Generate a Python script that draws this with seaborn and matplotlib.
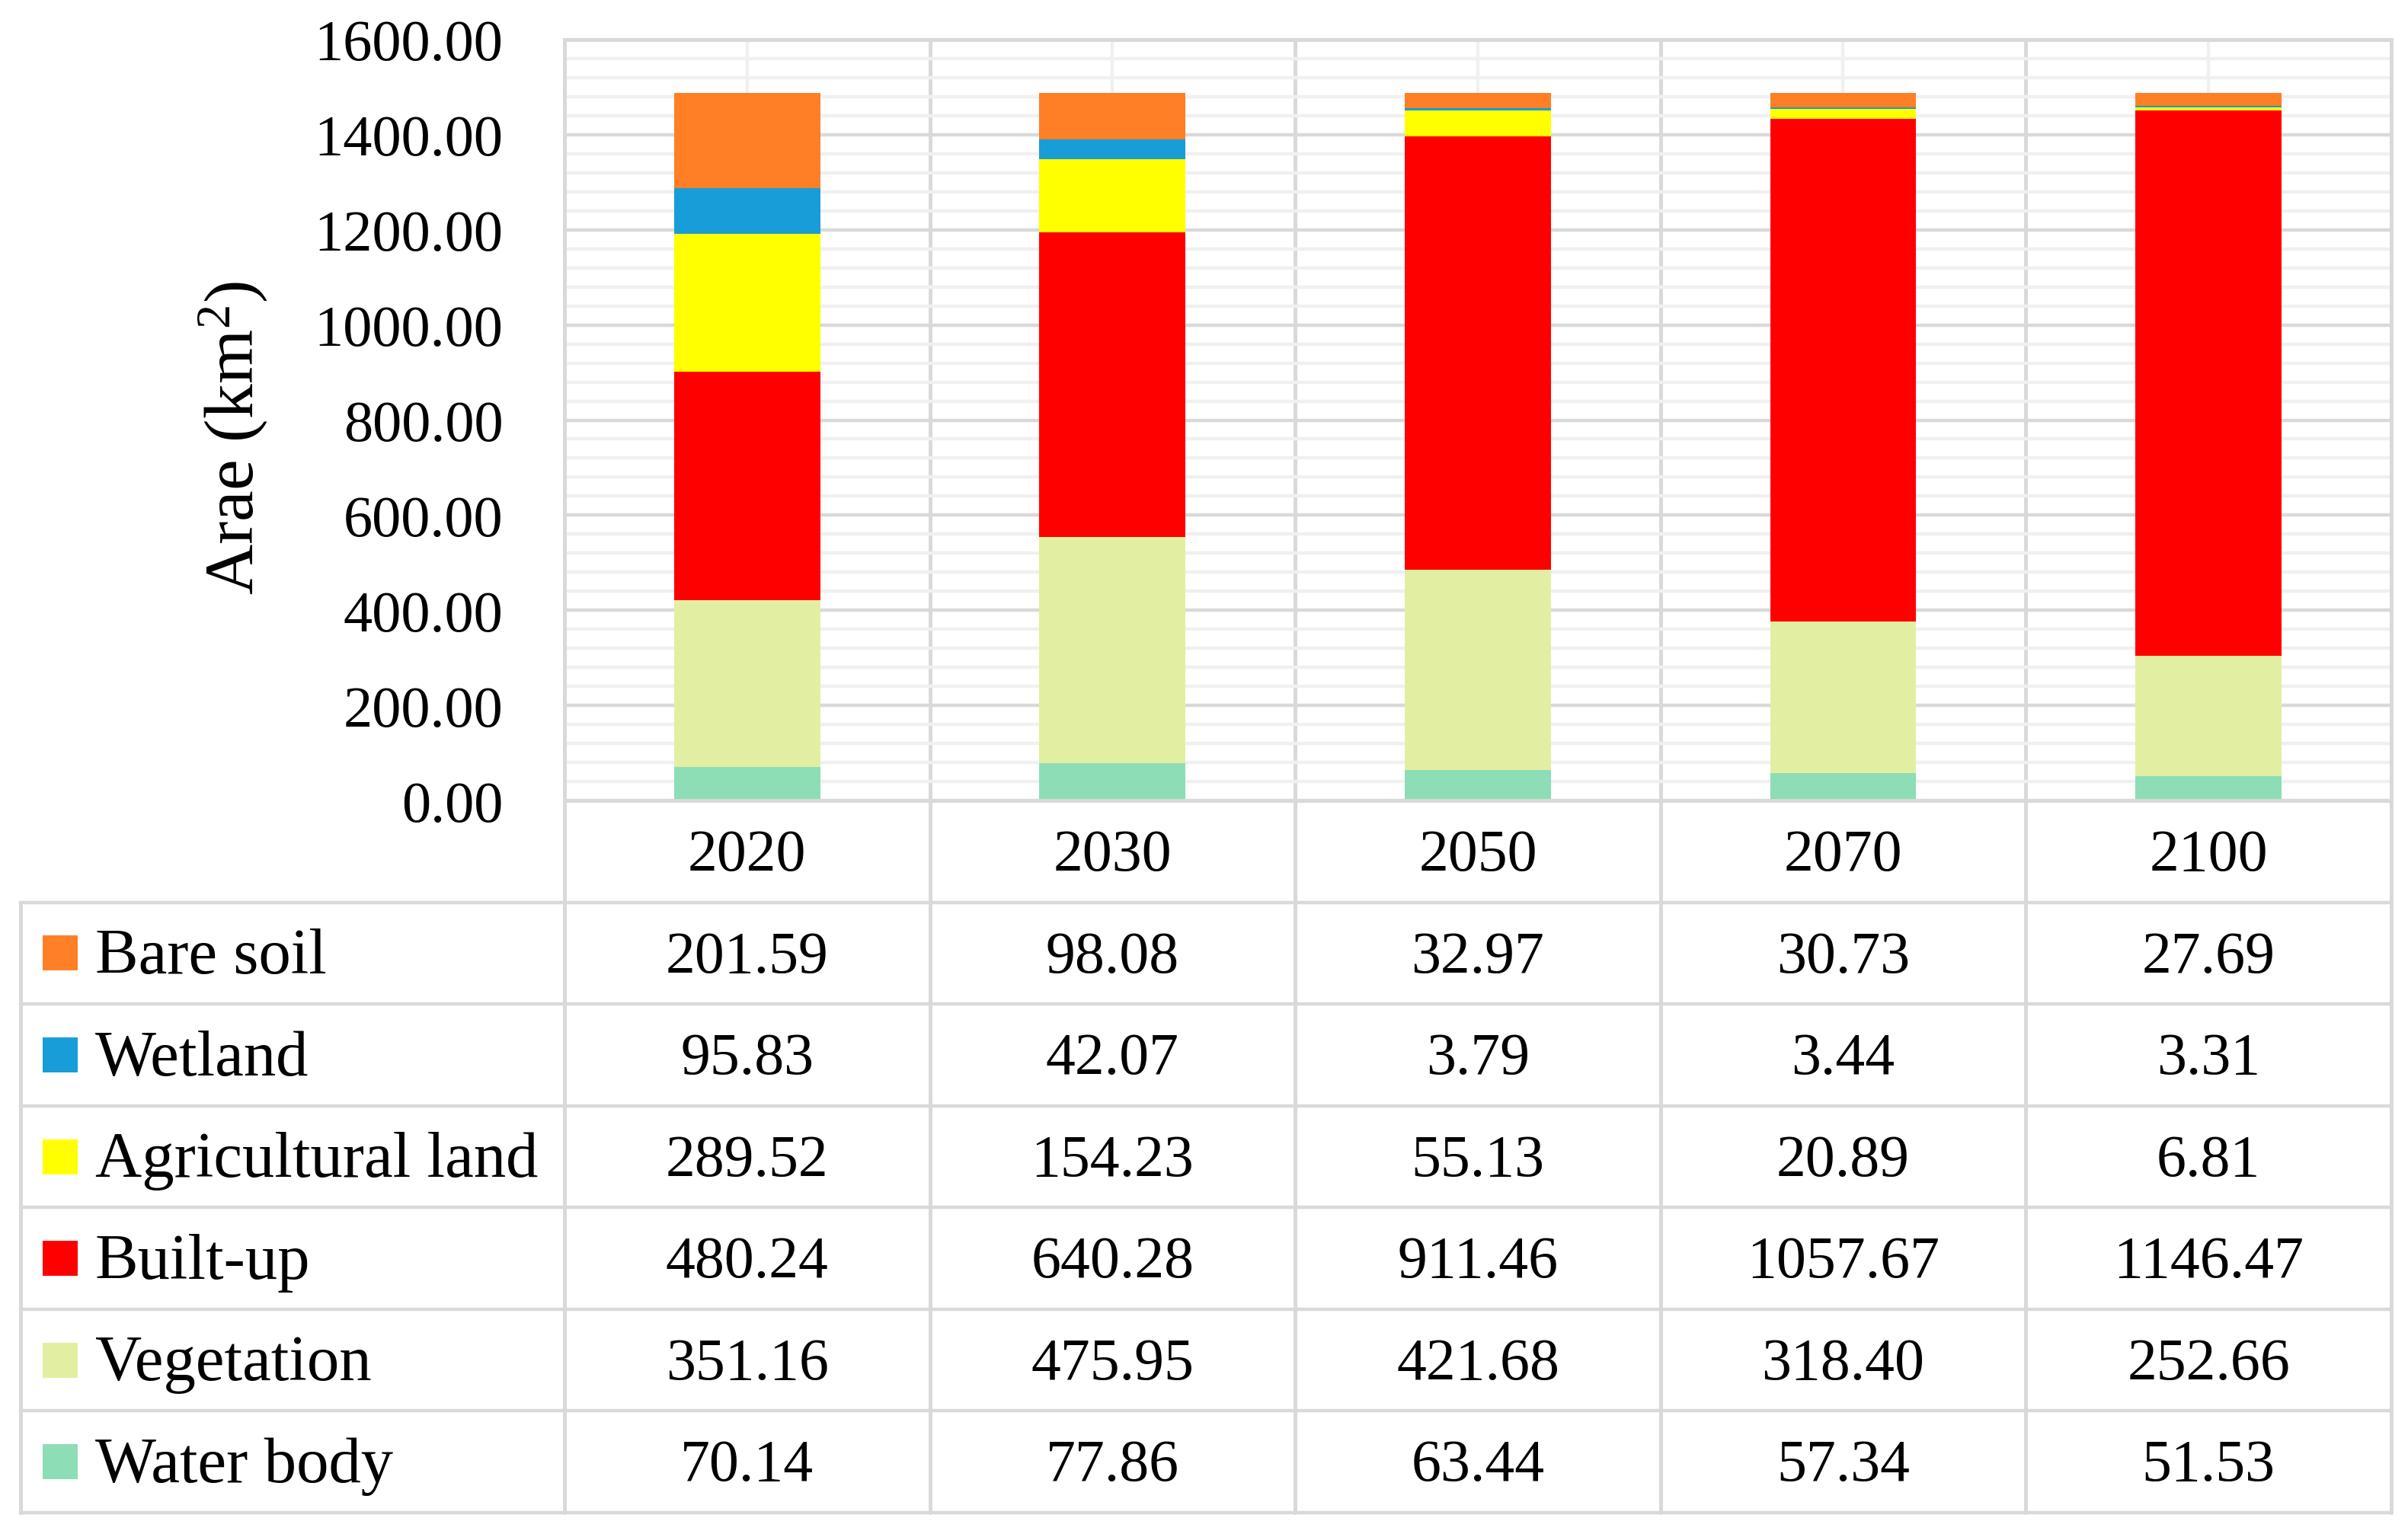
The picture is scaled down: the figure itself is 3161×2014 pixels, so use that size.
import matplotlib
matplotlib.use("Agg")
import numpy as np
import pandas as pd
import matplotlib.pyplot as plt
import seaborn as sns

# ── data (km²) ─────────────────────────────────────
years      = ["2020", "2030", "2050", "2070", "2100"]
water_body = [70.14, 77.86, 63.44, 57.34, 51.53]
vegetation = [351.16, 475.95, 421.68, 318.40, 252.66]
built_up   = [480.24, 640.28, 911.46, 1057.67, 1146.47]
agri_land  = [289.52, 154.23, 55.13, 20.89, 6.81]
wetland    = [95.83, 42.07, 3.79, 3.44, 3.31]
bare_soil  = [201.59, 98.08, 32.97, 30.73, 27.69]

# stacking order, bottom → top
classes = ["Water body", "Vegetation", "Built-up", "Agricultural land", "Wetland", "Bare soil"]
series  = [water_body, vegetation, built_up, agri_land, wetland, bare_soil]
colors  = ["#8DDDB7", "#E2EFA3", "#FF0000", "#FFFF00", "#189DD8", "#FF7F27"]

df = pd.DataFrame(dict(zip(classes, series)), index=years)
cum = df.cumsum(axis=1)

sns.set_theme(style="white")
plt.rcParams["font.family"] = ["Liberation Serif", "DejaVu Serif"]
plt.rcParams["mathtext.fontset"] = "custom"
plt.rcParams["mathtext.rm"] = "Liberation Serif"
plt.rcParams["mathtext.it"] = "Liberation Serif"
plt.rcParams["text.color"] = "black"
plt.rcParams["ytick.color"] = "black"
plt.rcParams["xtick.color"] = "black"

GRID_DARK  = "#d9d9d9"
GRID_LIGHT = "#f0f0f0"
LW = 1.6

fig = plt.figure(figsize=(15.805, 10.075), dpi=200)
ax = fig.add_axes([0.2344, 0.4779, 0.9930 - 0.2344, 0.9737 - 0.4779])

# ── stacked bars: draw cumulative heights from the top class down ────────────
for cls, col in zip(classes[::-1], colors[::-1]):
    sns.barplot(x=years, y=cum[cls].values, order=years, color=col,
                saturation=1, width=0.4, linewidth=0, ax=ax)

ax.set_xlim(-0.5, 4.5)
ax.set_ylim(0, 1600)
ax.set_yticks(np.arange(0, 1601, 200))
ax.set_yticks(np.arange(0, 1601, 40), minor=True)
ax.set_yticklabels([f"{v:.2f}" for v in np.arange(0, 1601, 200)], fontsize=27.5,
                   color="black")
ax.set_xticks(range(5))
ax.set_xticks(np.arange(0.5, 4.0, 1.0), minor=True)
ax.set_xticklabels([])
ax.tick_params(axis="both", which="both", length=0)
ax.tick_params(axis="y", pad=29)
ax.set_axisbelow(True)
ax.grid(which="minor", axis="y", color=GRID_LIGHT, lw=LW)
ax.grid(which="major", axis="y", color=GRID_DARK, lw=LW)
ax.grid(which="major", axis="x", color=GRID_LIGHT, lw=LW)
ax.grid(which="minor", axis="x", color=GRID_DARK, lw=1.8)
for s in ax.spines.values():
    s.set_color(GRID_DARK)
    s.set_linewidth(1.8)
ax.set_xlabel("")
ax.set_ylabel("")

fig.text(0.0968, 0.7146, r"Arae (km$^2$)", rotation=90, ha="center", va="center",
         fontsize=33)

# ── data table under the chart ───────────────────────────────────────────────
tab = fig.add_axes([0.00854, 0.0139, 0.9930 - 0.00854, 0.4779 - 0.0139])
x_left = -1.989
tab.set_xlim(x_left, 4.5)
tab.set_ylim(7, 0)
tab.axis("off")

for r in range(1, 8):
    tab.plot([x_left, 4.5], [r, r], color=GRID_DARK, lw=LW, clip_on=False,
             solid_capstyle="projecting")
tab.plot([x_left, x_left], [1, 7], color=GRID_DARK, lw=1.8, clip_on=False)
for xb in np.arange(-0.5, 4.6, 1.0):
    tab.plot([xb, xb], [0, 7], color=GRID_DARK, lw=1.8, clip_on=False)

dy = 0.04
for i, yr in enumerate(years):
    tab.text(i, 0.5 + dy, yr, ha="center", va="center", fontsize=28)

rows = classes[::-1]
row_colors = colors[::-1]
for r, (cls, col) in enumerate(zip(rows, row_colors)):
    yc = r + 1.5
    tab.scatter([-1.881], [yc], marker="s", s=275, color=col, linewidths=0,
                clip_on=False)
    tab.text(-1.785, yc + dy, cls, ha="left", va="center", fontsize=30.5)
    for i, v in enumerate(df[cls].values):
        tab.text(i, yc + dy, f"{v:.2f}", ha="center", va="center", fontsize=28)

fig.savefig("out.png", dpi=200)
